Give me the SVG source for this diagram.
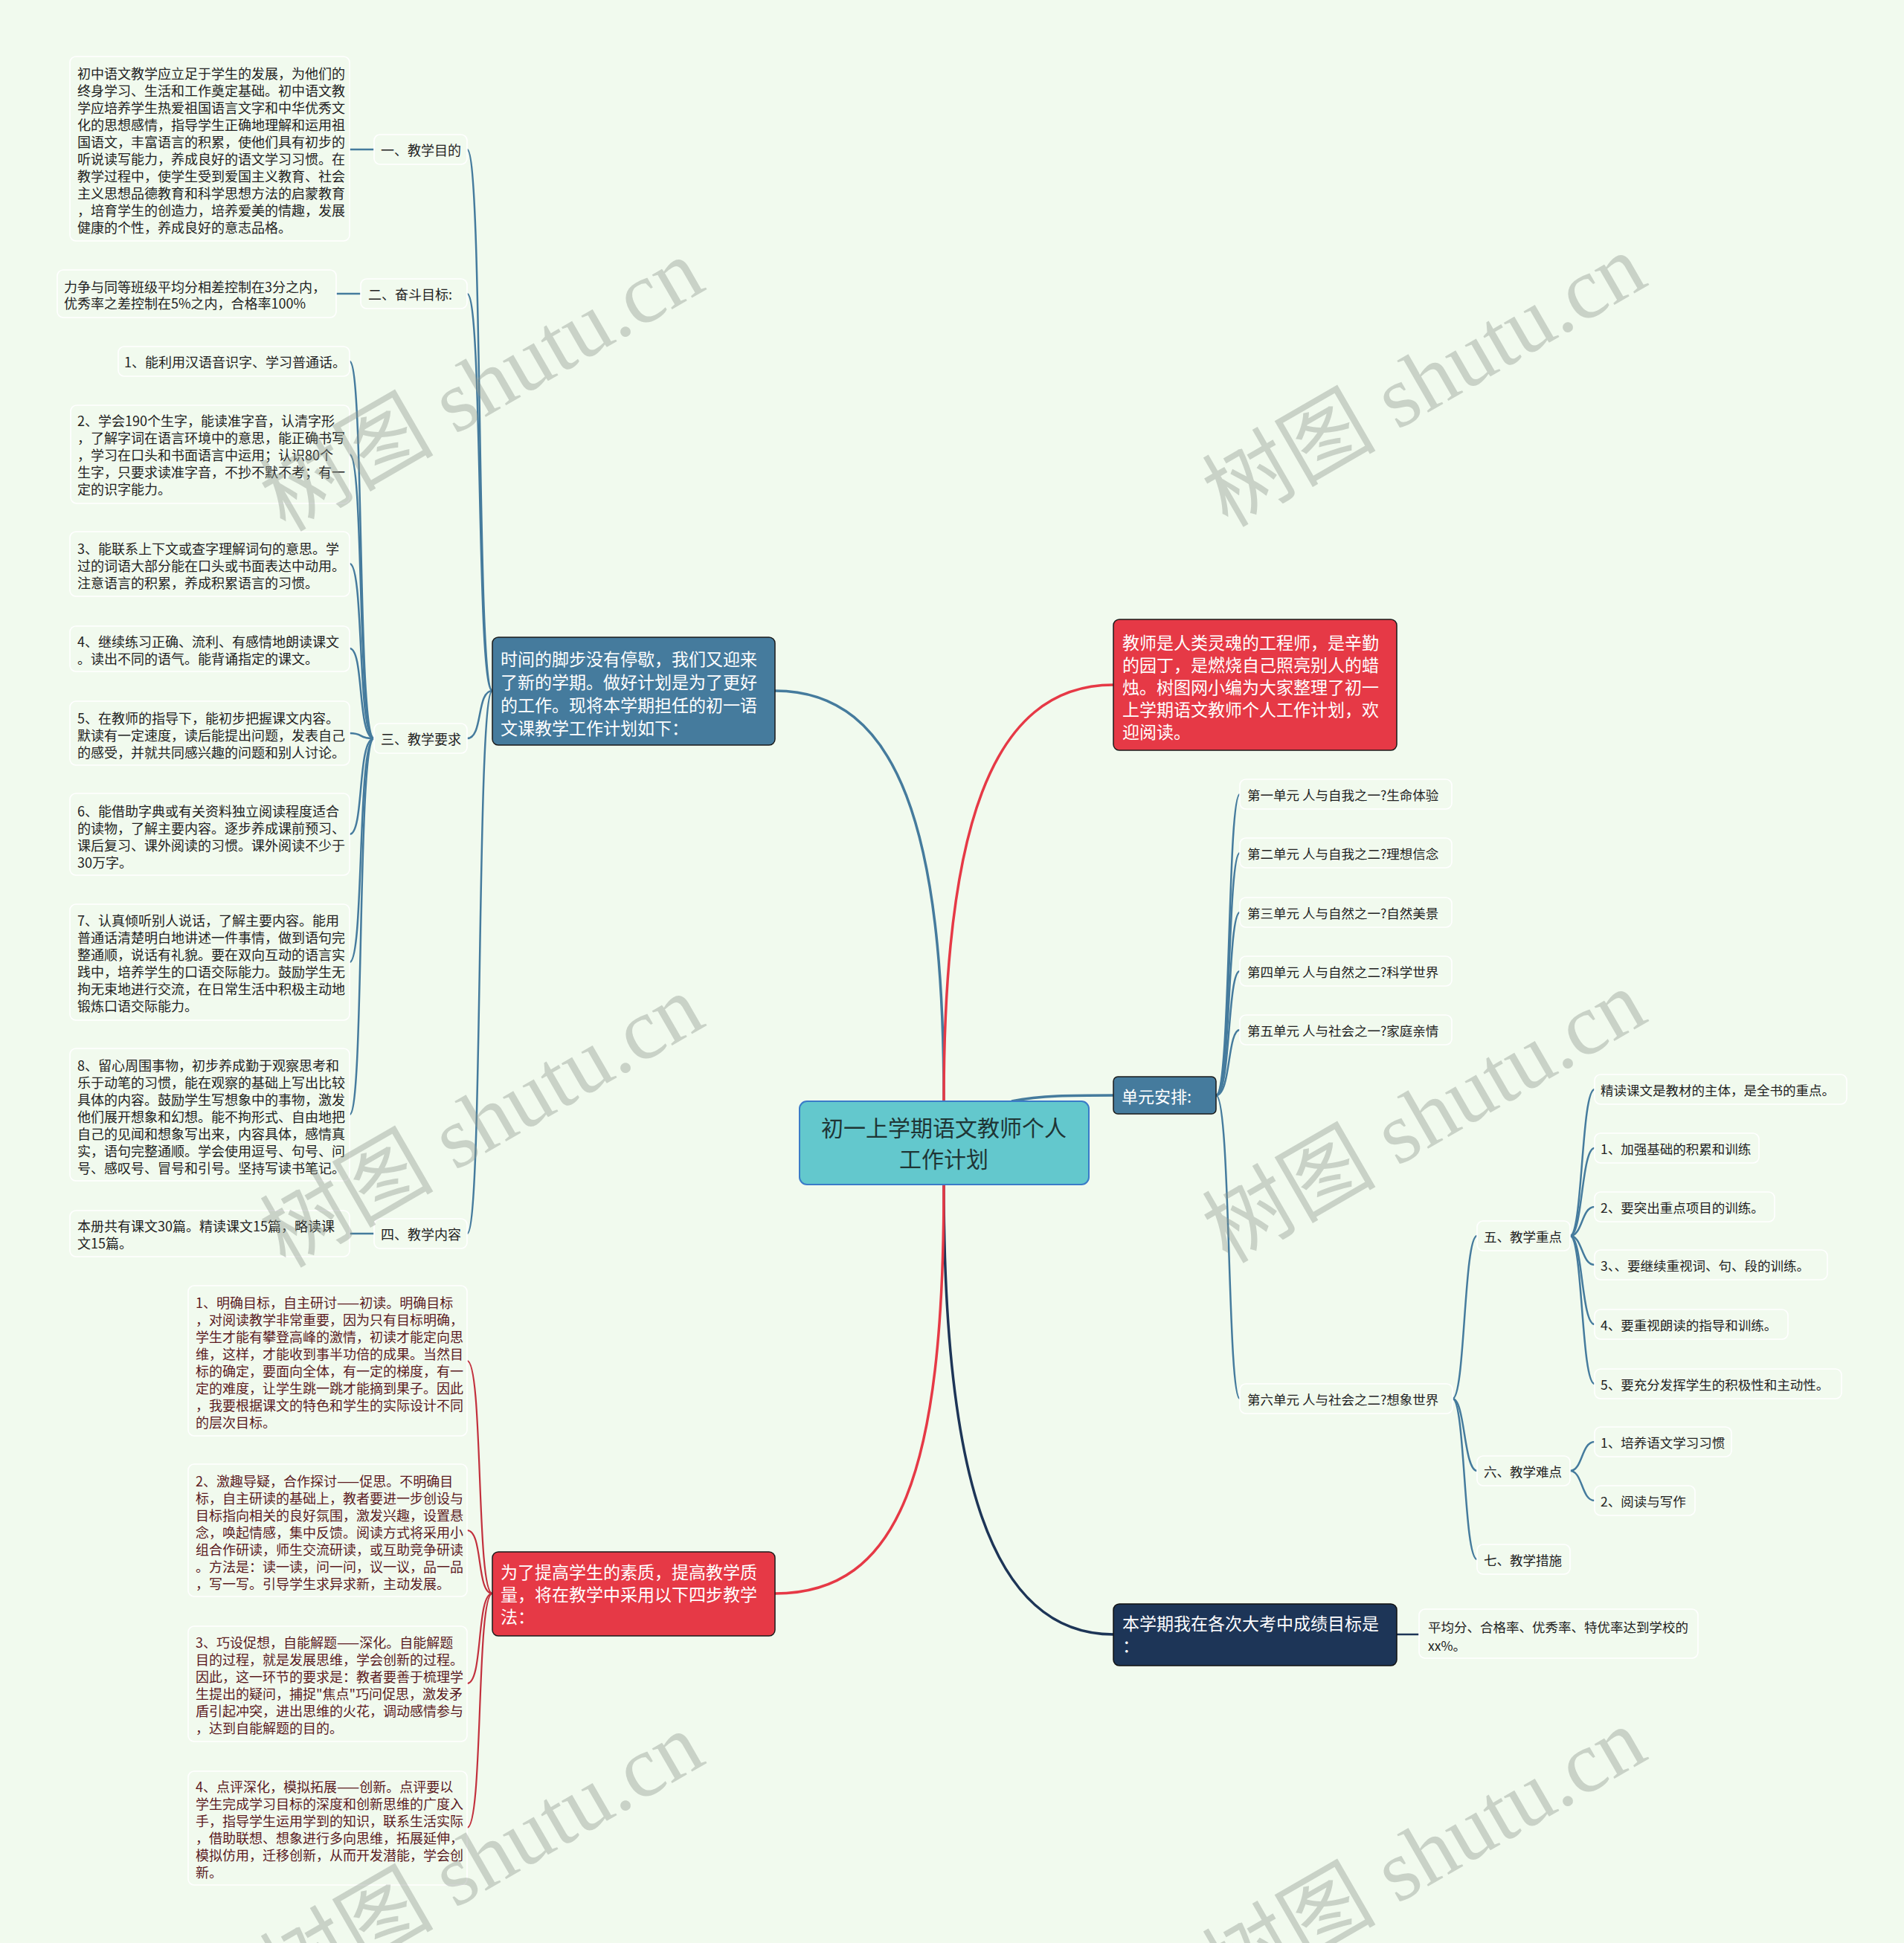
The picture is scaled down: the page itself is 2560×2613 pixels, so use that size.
<svg xmlns="http://www.w3.org/2000/svg" width="2560" height="2613" viewBox="0 0 2560 2613">
<style>
.t{font-family:"Noto Sans CJK SC","Liberation Sans",sans-serif;font-size:18px;fill:#222;dominant-baseline:central}
.tr{fill:#5b1a1f}
.ts{font-size:17.5px}
.w{fill:#fff;font-size:23px}
.leaf{fill:#f1faee;stroke:#ffffff;stroke-width:1.6}
.cb{fill:none;stroke:#457b9d;stroke-width:2.5}
.cr{fill:none;stroke:#c2303d;stroke-width:2.2}
.wm{font-family:"Liberation Serif","Noto Sans CJK SC",serif;font-size:117px;fill:#8e978e;opacity:0.4;text-anchor:middle;dominant-baseline:central}
</style>
<rect width="2560" height="2613" fill="#f1faee"/>
<g id="connectors">
<path d="M1269 1481 C1269 1120 1210 929 1042 929" fill="none" stroke="#457b9d" stroke-width="3.5"/>
<path d="M1269 1481 C1269 1120 1330 921 1497 921" fill="none" stroke="#e63946" stroke-width="3.5"/>
<path d="M1360 1481 C1400 1473 1440 1473 1497 1473" fill="none" stroke="#457b9d" stroke-width="3.5"/>
<path d="M1269 1593 C1269 1980 1330 2198 1497 2198" fill="none" stroke="#1d3557" stroke-width="3.5"/>
<path d="M1269 1593 C1269 1980 1210 2143 1042 2143" fill="none" stroke="#e63946" stroke-width="3.5"/>
<path class="cb" d="M662 929 C640 929 650 201 628 201"/>
<path class="cb" d="M662 929 C640 929 650 395 628 395"/>
<path class="cb" d="M662 929 C640 929 650 993 628 993"/>
<path class="cb" d="M662 929 C640 929 650 1659 628 1659"/>
<path class="cb" d="M470 201 L503 201"/>
<path class="cb" d="M452 395 L485 395"/>
<path class="cb" d="M470 1659 L503 1659"/>
<path class="cb" d="M503 993 C480 993 490 486 470 486"/>
<path class="cb" d="M503 993 C480 993 490 611 470 611"/>
<path class="cb" d="M503 993 C480 993 490 758 470 758"/>
<path class="cb" d="M503 993 C480 993 490 872 470 872"/>
<path class="cb" d="M503 993 C480 993 490 986 470 986"/>
<path class="cb" d="M503 993 C480 993 490 1122 470 1122"/>
<path class="cb" d="M503 993 C480 993 490 1294 470 1294"/>
<path class="cb" d="M503 993 C480 993 490 1499 470 1499"/>
<path class="cr" d="M662 2143 C640 2143 650 1830 628 1830"/>
<path class="cr" d="M662 2143 C640 2143 650 2058 628 2058"/>
<path class="cr" d="M662 2143 C640 2143 650 2264 628 2264"/>
<path class="cr" d="M662 2143 C640 2143 650 2458 628 2458"/>
<path class="cb" d="M1635 1473 C1655 1473 1650 1068 1667 1068"/>
<path class="cb" d="M1635 1473 C1655 1473 1650 1147 1667 1147"/>
<path class="cb" d="M1635 1473 C1655 1473 1650 1227 1667 1227"/>
<path class="cb" d="M1635 1473 C1655 1473 1650 1306 1667 1306"/>
<path class="cb" d="M1635 1473 C1655 1473 1650 1385 1667 1385"/>
<path class="cb" d="M1635 1473 C1655 1473 1650 1881 1667 1881"/>
<path class="cb" d="M1953 1881 C1970 1881 1968 1662 1986 1662"/>
<path class="cb" d="M1953 1881 C1970 1881 1968 1978 1986 1978"/>
<path class="cb" d="M1953 1881 C1970 1881 1968 2097 1986 2097"/>
<path class="cb" d="M2111 1662 C2128 1662 2126 1465 2144 1465"/>
<path class="cb" d="M2111 1662 C2128 1662 2126 1544 2144 1544"/>
<path class="cb" d="M2111 1662 C2128 1662 2126 1623 2144 1623"/>
<path class="cb" d="M2111 1662 C2128 1662 2126 1701 2144 1701"/>
<path class="cb" d="M2111 1662 C2128 1662 2126 1781 2144 1781"/>
<path class="cb" d="M2111 1662 C2128 1662 2126 1861 2144 1861"/>
<path class="cb" d="M2111 1978 C2128 1978 2126 1939 2144 1939"/>
<path class="cb" d="M2111 1978 C2128 1978 2126 2018 2144 2018"/>
<path d="M1878 2198 L1908 2198" fill="none" stroke="#1d3557" stroke-width="2.5"/>
</g>
<g id="center">
<rect x="1075" y="1481" width="389" height="112" rx="10" fill="#63c8cd" stroke="#3a7bc8" stroke-width="2"/>
<text class="t" x="1269" y="1515" text-anchor="middle" style="font-size:30px;fill:#1f3535">初一上学期语文教师个人</text>
<text class="t" x="1269" y="1557" text-anchor="middle" style="font-size:30px;fill:#1f3535">工作计划</text>
</g>
<g id="intro-blue">
<rect x="662" y="857" width="380" height="145" rx="8" fill="#457b9d" stroke="#1a1a1a" stroke-width="1.5"/>
<text class="t w" x="673" y="885">时间的脚步没有停歇，我们又迎来</text>
<text class="t w" x="673" y="916">了新的学期。做好计划是为了更好</text>
<text class="t w" x="673" y="947">的工作。现将本学期担任的初一语</text>
<text class="t w" x="673" y="978">文课教学工作计划如下：</text>
</g>
<g id="intro-red">
<rect x="1497" y="833" width="381" height="176" rx="8" fill="#e63946" stroke="#1a1a1a" stroke-width="1.5"/>
<text class="t w" x="1509" y="863">教师是人类灵魂的工程师，是辛勤</text>
<text class="t w" x="1509" y="893">的园丁，是燃烧自己照亮别人的蜡</text>
<text class="t w" x="1509" y="923">烛。树图网小编为大家整理了初一</text>
<text class="t w" x="1509" y="953">上学期语文教师个人工作计划，欢</text>
<text class="t w" x="1509" y="983">迎阅读。</text>
</g>
<g id="units">
<rect x="1497" y="1448" width="138" height="50" rx="6" fill="#457b9d" stroke="#1a1a1a" stroke-width="1.5"/>
<text class="t w" x="1508" y="1473" style="font-size:22px">单元安排:</text>
</g>
<g id="goal-navy">
<rect x="1497" y="2157" width="381" height="83" rx="8" fill="#1d3557" stroke="#111" stroke-width="1.5"/>
<text class="t w" x="1509" y="2182">本学期我在各次大考中成绩目标是</text>
<text class="t w" x="1509" y="2212">：</text>
</g>
<g id="method-red">
<rect x="662" y="2087" width="380" height="113" rx="8" fill="#e63946" stroke="#1a1a1a" stroke-width="1.5"/>
<text class="t w" x="673" y="2113">为了提高学生的素质，提高教学质</text>
<text class="t w" x="673" y="2143">量，将在教学中采用以下四步教学</text>
<text class="t w" x="673" y="2173">法：</text>
</g>
<g id="label-1">
<rect class="leaf" x="503" y="181" width="125" height="40" rx="8"/>
<text class="t" x="512" y="201">一、教学目的</text>
</g>
<g id="label-2">
<rect class="leaf" x="485" y="375" width="143" height="40" rx="8"/>
<text class="t" x="495" y="395">二、奋斗目标:</text>
</g>
<g id="label-3">
<rect class="leaf" x="503" y="973" width="125" height="40" rx="8"/>
<text class="t" x="512" y="993">三、教学要求</text>
</g>
<g id="label-4">
<rect class="leaf" x="503" y="1639" width="125" height="40" rx="8"/>
<text class="t" x="512" y="1659">四、教学内容</text>
</g>
<g id="purpose-text">
<rect class="leaf" x="94" y="76" width="376" height="248" rx="8"/>
<text class="t" x="104" y="98">初中语文教学应立足于学生的发展，为他们的</text>
<text class="t" x="104" y="121">终身学习、生活和工作奠定基础。初中语文教</text>
<text class="t" x="104" y="144">学应培养学生热爱祖国语言文字和中华优秀文</text>
<text class="t" x="104" y="167">化的思想感情，指导学生正确地理解和运用祖</text>
<text class="t" x="104" y="190">国语文，丰富语言的积累，使他们具有初步的</text>
<text class="t" x="104" y="213">听说读写能力，养成良好的语文学习习惯。在</text>
<text class="t" x="104" y="236">教学过程中，使学生受到爱国主义教育、社会</text>
<text class="t" x="104" y="259">主义思想品德教育和科学思想方法的启蒙教育</text>
<text class="t" x="104" y="282">，培育学生的创造力，培养爱美的情趣，发展</text>
<text class="t" x="104" y="305">健康的个性，养成良好的意志品格。</text>
</g>
<g id="goal-text">
<rect class="leaf" x="77" y="363" width="375" height="64" rx="8"/>
<text class="t" x="86" y="385">力争与同等班级平均分相差控制在3分之内，</text>
<text class="t" x="86" y="407">优秀率之差控制在5%之内，合格率100%</text>
</g>
<g id="req-1">
<rect class="leaf" x="159" y="466" width="311" height="40" rx="8"/>
<text class="t" x="167" y="486">1、能利用汉语音识字、学习普通话。</text>
</g>
<g id="req-2">
<rect class="leaf" x="95" y="545" width="375" height="132" rx="8"/>
<text class="t" x="104" y="565">2、学会190个生字，能读准字音，认清字形</text>
<text class="t" x="104" y="588">，了解字词在语言环境中的意思，能正确书写</text>
<text class="t" x="104" y="611">，学习在口头和书面语言中运用；认识80个</text>
<text class="t" x="104" y="634">生字，只要求读准字音，不抄不默不考；有一</text>
<text class="t" x="104" y="657">定的识字能力。</text>
</g>
<g id="req-3">
<rect class="leaf" x="94" y="715" width="376" height="87" rx="8"/>
<text class="t" x="104" y="737">3、能联系上下文或查字理解词句的意思。学</text>
<text class="t" x="104" y="760">过的词语大部分能在口头或书面表达中动用。</text>
<text class="t" x="104" y="783">注意语言的积累，养成积累语言的习惯。</text>
</g>
<g id="req-4">
<rect class="leaf" x="94" y="842" width="376" height="61" rx="8"/>
<text class="t" x="104" y="862">4、继续练习正确、流利、有感情地朗读课文</text>
<text class="t" x="104" y="885">。读出不同的语气。能背诵指定的课文。</text>
</g>
<g id="req-5">
<rect class="leaf" x="94" y="943" width="376" height="86" rx="8"/>
<text class="t" x="104" y="965">5、在教师的指导下，能初步把握课文内容。</text>
<text class="t" x="104" y="988">默读有一定速度，读后能提出问题，发表自己</text>
<text class="t" x="104" y="1011">的感受，并就共同感兴趣的问题和别人讨论。</text>
</g>
<g id="req-6">
<rect class="leaf" x="94" y="1067" width="376" height="110" rx="8"/>
<text class="t" x="104" y="1090">6、能借助字典或有关资料独立阅读程度适合</text>
<text class="t" x="104" y="1113">的读物，了解主要内容。逐步养成课前预习、</text>
<text class="t" x="104" y="1136">课后复习、课外阅读的习惯。课外阅读不少于</text>
<text class="t" x="104" y="1159">30万字。</text>
</g>
<g id="req-7">
<rect class="leaf" x="94" y="1216" width="376" height="156" rx="8"/>
<text class="t" x="104" y="1237">7、认真倾听别人说话，了解主要内容。能用</text>
<text class="t" x="104" y="1260">普通话清楚明白地讲述一件事情，做到语句完</text>
<text class="t" x="104" y="1283">整通顺，说话有礼貌。要在双向互动的语言实</text>
<text class="t" x="104" y="1306">践中，培养学生的口语交际能力。鼓励学生无</text>
<text class="t" x="104" y="1329">拘无束地进行交流，在日常生活中积极主动地</text>
<text class="t" x="104" y="1352">锻炼口语交际能力。</text>
</g>
<g id="req-8">
<rect class="leaf" x="94" y="1410" width="376" height="178" rx="8"/>
<text class="t" x="104" y="1432">8、留心周围事物，初步养成勤于观察思考和</text>
<text class="t" x="104" y="1455">乐于动笔的习惯，能在观察的基础上写出比较</text>
<text class="t" x="104" y="1478">具体的内容。鼓励学生写想象中的事物，激发</text>
<text class="t" x="104" y="1501">他们展开想象和幻想。能不拘形式、自由地把</text>
<text class="t" x="104" y="1524">自己的见闻和想象写出来，内容具体，感情真</text>
<text class="t" x="104" y="1547">实，语句完整通顺。学会使用逗号、句号、问</text>
<text class="t" x="104" y="1570">号、感叹号、冒号和引号。坚持写读书笔记。</text>
</g>
<g id="content-text">
<rect class="leaf" x="94" y="1628" width="376" height="62" rx="8"/>
<text class="t" x="104" y="1648">本册共有课文30篇。精读课文15篇，略读课</text>
<text class="t" x="104" y="1671">文15篇。</text>
</g>
<g id="step-1">
<rect class="leaf" x="253" y="1729" width="375" height="202" rx="8"/>
<text class="t tr" x="263" y="1751">1、明确目标，自主研讨——初读。明确目标</text>
<text class="t tr" x="263" y="1774">，对阅读教学非常重要，因为只有目标明确，</text>
<text class="t tr" x="263" y="1797">学生才能有攀登高峰的激情，初读才能定向思</text>
<text class="t tr" x="263" y="1820">维，这样，才能收到事半功倍的成果。当然目</text>
<text class="t tr" x="263" y="1843">标的确定，要面向全体，有一定的梯度，有一</text>
<text class="t tr" x="263" y="1866">定的难度，让学生跳一跳才能摘到果子。因此</text>
<text class="t tr" x="263" y="1889">，我要根据课文的特色和学生的实际设计不同</text>
<text class="t tr" x="263" y="1912">的层次目标。</text>
</g>
<g id="step-2">
<rect class="leaf" x="253" y="1969" width="375" height="178" rx="8"/>
<text class="t tr" x="263" y="1991">2、激趣导疑，合作探讨——促思。不明确目</text>
<text class="t tr" x="263" y="2014">标，自主研读的基础上，教者要进一步创设与</text>
<text class="t tr" x="263" y="2037">目标指向相关的良好氛围，激发兴趣，设置悬</text>
<text class="t tr" x="263" y="2060">念，唤起情感，集中反馈。阅读方式将采用小</text>
<text class="t tr" x="263" y="2083">组合作研读，师生交流研读，或互助竞争研读</text>
<text class="t tr" x="263" y="2106">。方法是：读一读，问一问，议一议，品一品</text>
<text class="t tr" x="263" y="2129">，写一写。引导学生求异求新，主动发展。</text>
</g>
<g id="step-3">
<rect class="leaf" x="253" y="2187" width="375" height="155" rx="8"/>
<text class="t tr" x="263" y="2208">3、巧设促想，自能解题——深化。自能解题</text>
<text class="t tr" x="263" y="2231">目的过程，就是发展思维，学会创新的过程。</text>
<text class="t tr" x="263" y="2254">因此，这一环节的要求是：教者要善于梳理学</text>
<text class="t tr" x="263" y="2277">生提出的疑问，捕捉"焦点"巧问促思，激发矛</text>
<text class="t tr" x="263" y="2300">盾引起冲突，进出思维的火花，调动感情参与</text>
<text class="t tr" x="263" y="2323">，达到自能解题的目的。</text>
</g>
<g id="step-4">
<rect class="leaf" x="253" y="2382" width="375" height="153" rx="8"/>
<text class="t tr" x="263" y="2402">4、点评深化，模拟拓展——创新。点评要以</text>
<text class="t tr" x="263" y="2425">学生完成学习目标的深度和创新思维的广度入</text>
<text class="t tr" x="263" y="2448">手，指导学生运用学到的知识，联系生活实际</text>
<text class="t tr" x="263" y="2471">，借助联想、想象进行多向思维，拓展延伸，</text>
<text class="t tr" x="263" y="2494">模拟仿用，迁移创新，从而开发潜能，学会创</text>
<text class="t tr" x="263" y="2517">新。</text>
</g>
<g id="unit-1"><rect class="leaf" x="1667" y="1048" width="285" height="40" rx="8"/><text class="t ts" x="1677" y="1068">第一单元 人与自我之一?生命体验</text></g>
<g id="unit-2"><rect class="leaf" x="1667" y="1127" width="285" height="40" rx="8"/><text class="t ts" x="1677" y="1147">第二单元 人与自我之二?理想信念</text></g>
<g id="unit-3"><rect class="leaf" x="1667" y="1207" width="285" height="40" rx="8"/><text class="t ts" x="1677" y="1227">第三单元 人与自然之一?自然美景</text></g>
<g id="unit-4"><rect class="leaf" x="1667" y="1286" width="285" height="40" rx="8"/><text class="t ts" x="1677" y="1306">第四单元 人与自然之二?科学世界</text></g>
<g id="unit-5"><rect class="leaf" x="1667" y="1365" width="285" height="40" rx="8"/><text class="t ts" x="1677" y="1385">第五单元 人与社会之一?家庭亲情</text></g>
<g id="unit-6"><rect class="leaf" x="1667" y="1861" width="286" height="40" rx="8"/><text class="t ts" x="1677" y="1881">第六单元 人与社会之二?想象世界</text></g>
<g id="key-label"><rect class="leaf" x="1986" y="1642" width="125" height="40" rx="8"/><text class="t ts" x="1995" y="1662">五、教学重点</text></g>
<g id="diff-label"><rect class="leaf" x="1986" y="1958" width="125" height="40" rx="8"/><text class="t ts" x="1995" y="1978">六、教学难点</text></g>
<g id="measure-label"><rect class="leaf" x="1986" y="2077" width="125" height="40" rx="8"/><text class="t ts" x="1995" y="2097">七、教学措施</text></g>
<g id="key-0"><rect class="leaf" x="2144" y="1445" width="339" height="40" rx="8"/><text class="t ts" x="2152" y="1465">精读课文是教材的主体，是全书的重点。</text></g>
<g id="key-1"><rect class="leaf" x="2144" y="1524" width="221" height="40" rx="8"/><text class="t ts" x="2152" y="1544">1、加强基础的积累和训练</text></g>
<g id="key-2"><rect class="leaf" x="2144" y="1603" width="242" height="40" rx="8"/><text class="t ts" x="2152" y="1623">2、要突出重点项目的训练。</text></g>
<g id="key-3"><rect class="leaf" x="2144" y="1681" width="313" height="40" rx="8"/><text class="t ts" x="2152" y="1701">3、、要继续重视词、句、段的训练。</text></g>
<g id="key-4"><rect class="leaf" x="2144" y="1761" width="260" height="40" rx="8"/><text class="t ts" x="2152" y="1781">4、要重视朗读的指导和训练。</text></g>
<g id="key-5"><rect class="leaf" x="2144" y="1841" width="332" height="40" rx="8"/><text class="t ts" x="2152" y="1861">5、要充分发挥学生的积极性和主动性。</text></g>
<g id="diff-1"><rect class="leaf" x="2144" y="1919" width="184" height="40" rx="8"/><text class="t ts" x="2152" y="1939">1、培养语文学习习惯</text></g>
<g id="diff-2"><rect class="leaf" x="2144" y="1998" width="135" height="40" rx="8"/><text class="t ts" x="2152" y="2018">2、阅读与写作</text></g>
<g id="goal-detail">
<rect class="leaf" x="1908" y="2164" width="375" height="66" rx="8"/>
<text class="t ts" x="1920" y="2187">平均分、合格率、优秀率、特优率达到学校的</text>
<text class="t ts" x="1920" y="2212">xx%。</text>
</g>
<g id="watermarks">
<text class="wm" transform="translate(648 518) rotate(-30)">树图 shutu.cn</text>
<text class="wm" transform="translate(1915 512) rotate(-30)">树图 shutu.cn</text>
<text class="wm" transform="translate(648 1508) rotate(-30)">树图 shutu.cn</text>
<text class="wm" transform="translate(1915 1502) rotate(-30)">树图 shutu.cn</text>
<text class="wm" transform="translate(648 2500) rotate(-30)">树图 shutu.cn</text>
<text class="wm" transform="translate(1915 2494) rotate(-30)">树图 shutu.cn</text>
</g>
</svg>
